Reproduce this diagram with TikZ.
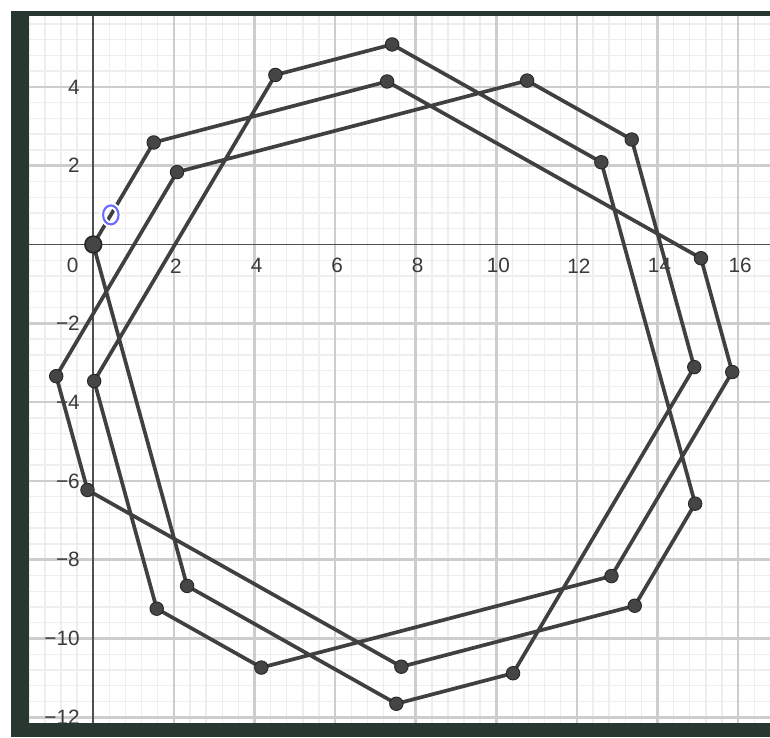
\documentclass[tikz,border=0pt]{standalone}
\usepackage{fontspec}
\setmainfont{Liberation Sans}
\usetikzlibrary{calc,shapes.geometric}
\definecolor{framec}{HTML}{283830}
\definecolor{polyc}{HTML}{404040}
\definecolor{majorc}{HTML}{CDCDCD}
\definecolor{minorc}{HTML}{EEEEEE}
\definecolor{axisc}{HTML}{505050}
\definecolor{labc}{HTML}{3A3A3A}
\definecolor{ptfill}{HTML}{454545}
\definecolor{lblblue}{HTML}{6B6BFF}
\begin{document}
\begin{tikzpicture}[x=0.02cm, y=-0.02cm,
 minorgrid/.style={draw=minorc, line width=0.8pt},
 majorgrid/.style={draw=majorc, line width=1.4pt},
 axisline/.style={draw=axisc, line width=1pt},
 ticklab/.style={text=labc, font=\fontsize{11.8}{14}\selectfont, inner sep=0pt},
 poly/.style={draw=polyc, line width=2.1pt, line join=round, line cap=round},
 pt/.style={circle, fill=ptfill, draw=black!85, line width=0.5pt, minimum size=0.27cm, inner sep=0pt},
 opt/.style={pt, minimum size=0.335cm, line width=0.9pt},
 olabel/.style={ellipse, draw=lblblue, line width=1.2pt, minimum width=0.31cm, minimum height=0.38cm, inner sep=0pt, preaction={draw=white, line width=3.4pt}},
]
\useasboundingbox (0,0) rectangle (770,737);
\fill[white] (0,0) rectangle (770,737);
\begin{scope}
\clip (29,16) rectangle (770,723);
\begin{scope}[shift={(93.3,244.5)}, xscale=40.3, yscale=-39.4]
  % minor grid
  \foreach \k in {-4,...,42} \draw[minorgrid] ({\k*0.4},-12.6) -- ({\k*0.4},6.2);
  \foreach \k in {-31,...,15} \draw[minorgrid] (-1.8,{\k*0.4}) -- (17.2,{\k*0.4});
  % major grid
  \foreach \v in {2,4,6,8,10,12,14,16} \draw[majorgrid] (\v,-12.6) -- (\v,6.2);
  \foreach \v in {-12,-10,-8,-6,-4,-2,2,4} \draw[majorgrid] (-1.8,\v) -- (17.2,\v);
  % axes
  \draw[axisline] (-1.8,0) -- (17.2,0);
  \draw[axisline] (0,-12.6) -- (0,6.2);
  % tick labels
  \node[ticklab] (x0) at (-0.511,-0.54) {0};
  \foreach \v in {2,4,6,8,10,12,14,16} \node[ticklab] (x\v) at (\v+0.05,-0.54) {\v};
  \foreach \v/\t in {4/4,2/2,-2/−2,-4/−4,-6/−6,-8/−8,-10/−10,-12/−12}
    \node[ticklab, anchor=east] (y\v) at (-0.33,\v) {\t};
  % vertices of the closed path
  \path (0,0) coordinate (p0)
   ++(60:3) coordinate (p1)
   ++(15:6) coordinate (p2)
   ++(-30:9) coordinate (p3)
   ++(-75:3) coordinate (p4)
   ++(-120:6) coordinate (p5)
   ++(-165:9) coordinate (p6)
   ++(150:3) coordinate (p7)
   ++(105:6) coordinate (p8)
   ++(60:9) coordinate (p9)
   ++(15:3) coordinate (p10)
   ++(-30:6) coordinate (p11)
   ++(-75:9) coordinate (p12)
   ++(-120:3) coordinate (p13)
   ++(-165:6) coordinate (p14)
   ++(150:9) coordinate (p15)
   ++(105:3) coordinate (p16)
   ++(60:6) coordinate (p17)
   ++(15:9) coordinate (p18)
   ++(-30:3) coordinate (p19)
   ++(-75:6) coordinate (p20)
   ++(-120:9) coordinate (p21)
   ++(-165:3) coordinate (p22)
   ++(150:6) coordinate (p23);
  \draw[poly] (p0) \foreach \i in {1,...,23} {-- (p\i)} -- cycle;
  % blue label on first segment
  \node[olabel] (olab) at ($(p0)!0.29!(p1)$) {};
  % points
  \foreach \i in {1,...,23} \node[pt] (d\i) at (p\i) {};
  \node[opt] (d0) at (p0) {};
\end{scope}
\end{scope}
% dark frame
\fill[framec] (11,11) rectangle (770,16);
\fill[framec] (11,11) rectangle (29,737);
\fill[framec] (11,723) rectangle (770,737);
\end{tikzpicture}
\end{document}
